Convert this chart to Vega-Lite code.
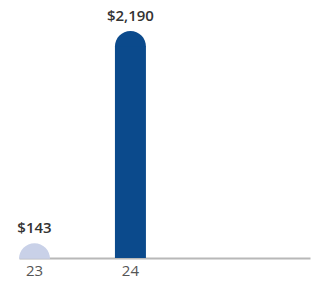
{
  "$schema": "https://vega.github.io/schema/vega-lite/v6.json",
  "width": 291,
  "height": 227,
  "autosize": {"type": "none"},
  "padding": {"left": 19, "top": 31, "right": 9, "bottom": 30},
  "background": "white",
  "data": {"values": [
    {"year": "23", "value": 143},
    {"year": "24", "value": 2190}
  ]},
  "encoding": {
    "x": {
      "field": "year", "type": "nominal", "sort": null,
      "scale": {"paddingInner": 0.677, "paddingOuter": 0.855, "align": 0},
      "axis": {"title": null, "labelAngle": 0, "ticks": false, "grid": false,
               "domainColor": "#b8b8b8", "domainWidth": 2,
               "labelFont": "Open Sans", "labelFontSize": 15, "labelColor": "#555555", "labelPadding": 5}
    },
    "y": {"field": "value", "type": "quantitative", "scale": {"domain": [0, 2190]}, "axis": null}
  },
  "layer": [
    {
      "mark": {"type": "bar", "yOffset": 15, "y2Offset": 0.001},
      "encoding": {
        "y2": {"datum": 0},
        "color": {"field": "year", "type": "nominal", "scale": {"range": ["#c9d1e8", "#0b4a8c"]}, "legend": null}
      }
    },
    {
      "mark": {"type": "point", "shape": "M -1 1 A 1 1 0 0 1 1 1 Z", "size": 961, "filled": true, "opacity": 1, "strokeWidth": 0},
      "encoding": {
        "color": {"field": "year", "type": "nominal", "legend": null}
      }
    },
    {
      "mark": {"type": "text", "baseline": "alphabetic", "dy": -10, "font": "Open Sans", "fontSize": 15, "fontWeight": 600, "color": "#333333"},
      "encoding": {"text": {"field": "value", "type": "quantitative", "format": "$,"}}
    }
  ],
  "config": {"view": {"stroke": null}}
}
